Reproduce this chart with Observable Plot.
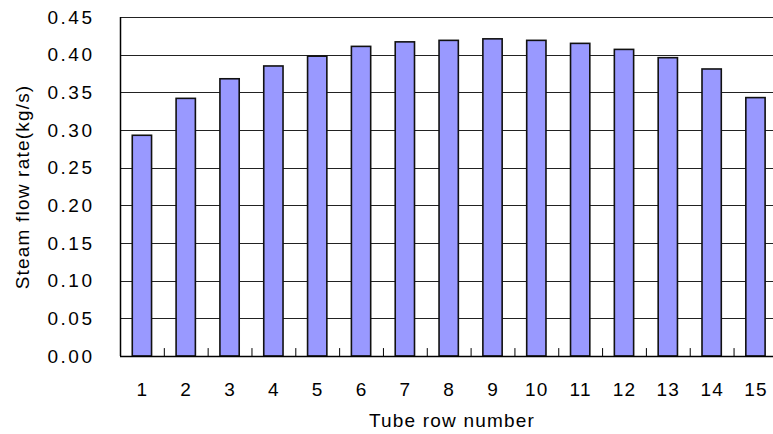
<!DOCTYPE html>
<html>
<head>
<meta charset="utf-8">
<script src="https://cdn.jsdelivr.net/npm/d3@7"></script>
<script src="https://cdn.jsdelivr.net/npm/@observablehq/plot@0.6"></script>
<style>
  html, body { margin: 0; padding: 0; background: #fff; }
  #chart svg { display: block; }
  g[aria-label="y-axis tick label"] text { letter-spacing: 2.5px; }
  g[aria-label="x-axis tick label"] text { letter-spacing: 1.2px; }
  .title text { letter-spacing: 1.2px; }
</style>
</head>
<body>
<div id="chart"></div>
<script>
const rows = [1, 2, 3, 4, 5, 6, 7, 8, 9, 10, 11, 12, 13, 14, 15];
const flow = [0.293, 0.342, 0.368, 0.385, 0.398, 0.411, 0.417, 0.419, 0.421, 0.419, 0.415, 0.407, 0.396, 0.381, 0.343];
const yTicks = [0, 0.05, 0.10, 0.15, 0.20, 0.25, 0.30, 0.35, 0.40, 0.45];
const xTitle = "Tube row number";
const yTitle = "Steam flow rate(kg/s)";

const data = rows.map((r, i) => ({row: r, flow: flow[i]}));
const halfBar = 0.22;
const bounds = rows.slice(0, -1).map(r => r + 0.5);

const plot = Plot.plot({
  width: 773,
  height: 434,
  marginLeft: 120,
  marginRight: 0,
  marginTop: 17,
  marginBottom: 78,
  style: {fontFamily: "'Liberation Sans', Arial, sans-serif", fontSize: "19px", color: "#000", background: "#fff"},
  x: {domain: [0.5, 15.4], ticks: rows, tickFormat: d => String(d), label: null},
  y: {domain: [0, 0.45], ticks: yTicks, tickFormat: d => d.toFixed(2), label: null},
  marks: [
    Plot.ruleY(yTicks, {stroke: "#222", strokeWidth: 1, shapeRendering: "crispEdges"}),
    Plot.rectY(data, {x1: d => d.row - halfBar, x2: d => d.row + halfBar, y1: 0, y2: "flow", fill: "#9999FF", stroke: "#111", strokeWidth: 1.6}),
    Plot.ruleX(bounds, {y1: 0, y2: 0.0105, stroke: "#000", strokeWidth: 1}),
    Plot.ruleX([0.5], {stroke: "#000", strokeWidth: 1.5}),
    Plot.ruleY([0], {stroke: "#000", strokeWidth: 1.5}),
    Plot.axisY({ticks: yTicks, tickFormat: d => d.toFixed(2), tickSize: 0, tickPadding: 26, label: null, fontSize: 19}),
    Plot.axisX({ticks: rows, tickFormat: d => String(d), tickSize: 0, tickPadding: 26, label: null, fontSize: 19}),
    Plot.text([xTitle], {text: d => d, frameAnchor: "bottom", textAnchor: "middle", lineAnchor: "middle", dx: 5, dy: 64, fontSize: 19, className: "title"}),
    Plot.text([yTitle], {text: d => d, frameAnchor: "left", textAnchor: "middle", lineAnchor: "middle", dx: -98, rotate: -90, fontSize: 19, className: "title"})
  ]
});
document.getElementById("chart").appendChild(plot);
</script>
</body>
</html>
